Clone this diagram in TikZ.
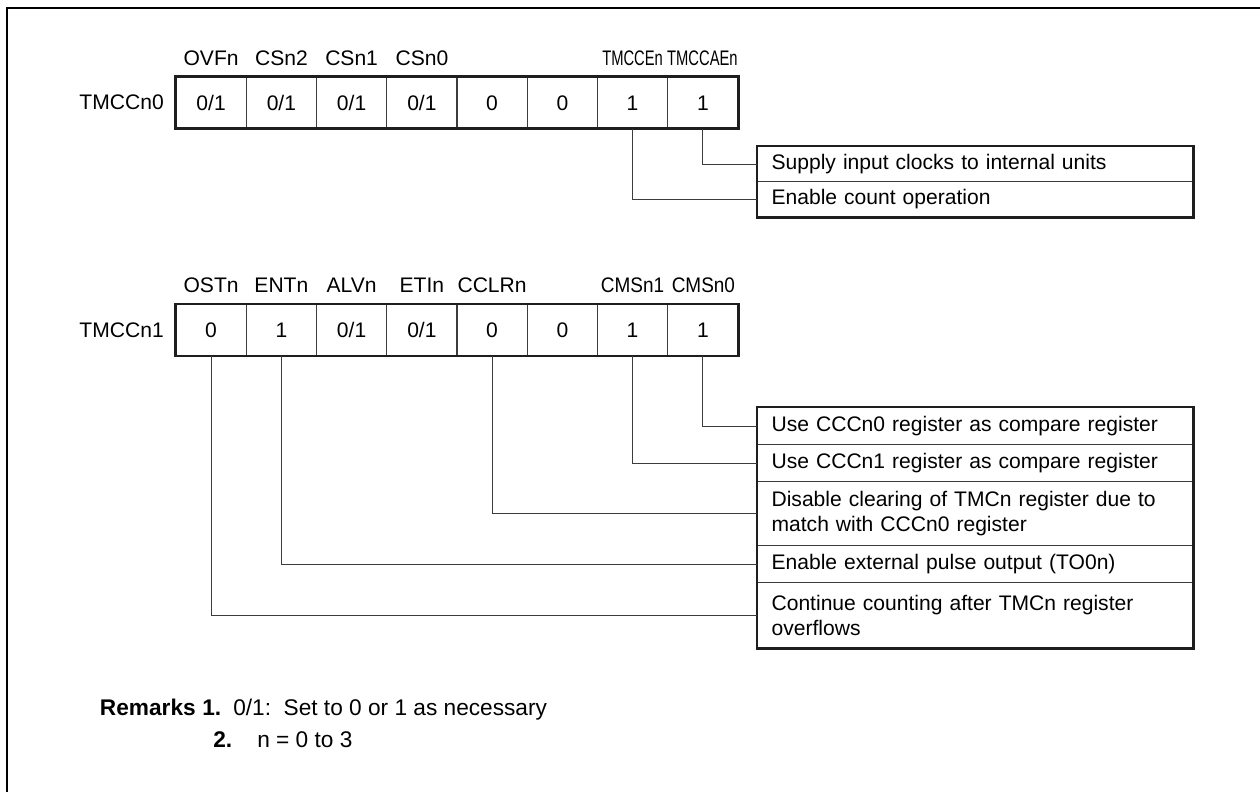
\documentclass[tikz,border=0pt]{standalone}
\usepackage{fontspec}
\setmainfont{Liberation Sans}
\usepackage{graphicx}
\usepackage{xcolor}
\usepackage{tikz}
\definecolor{figline}{RGB}{30,30,30}
\definecolor{figthin}{RGB}{60,60,60}
\newcommand\figfont{\fontsize{15.8}{18.75}\selectfont}
\newcommand\remfont{\fontsize{17}{20}\selectfont}
\tikzset{
  cell/.style ={draw=figthin, line width=0.8pt, minimum width=52.69pt, minimum height=38.25pt, inner sep=0pt, font=\figfont, text height=11.3pt, text depth=0pt},
  scb/.style  ={draw=figline, line width=2pt},
  sc/.style   ={draw=figthin, line width=0.75pt},
  frm/.style  ={draw=black, line width=2pt},
  lab/.style  ={font=\figfont, inner sep=0pt, anchor=base},
  regname/.style ={font=\figfont, inner sep=0pt, anchor=east},
  note/.style ={draw=figthin, line width=0.9pt, anchor=north west, text width=305.25pt, inner xsep=10.5pt, inner ysep=0pt, align=left, font=\figfont},
  rem/.style  ={font=\remfont, inner sep=0pt, anchor=base west},
}
\begin{document}
\begin{tikzpicture}[x=0.75pt,y=-0.75pt]
  \useasboundingbox (0,0) rectangle (1260,792);
  \draw[frm] (1260,8) -- (7,8) -- (7,792);
  \node[lab] (lovf) at (211.1,65) {OVFn};
  \node[lab] (lcs2) at (281.4,65) {CSn2};
  \node[lab] (lcs1) at (351.6,65) {CSn1};
  \node[lab] (lcs0) at (421.9,65) {CSn0};
  \node[lab] (ltmcce) at (632.6,65) {\scalebox{0.70}[1]{TMCCEn}};
  \node[lab] (ltmccae) at (702.4,65) {\scalebox{0.70}[1]{TMCCAEn}};
  \node[regname] (rega) at (164,102.5) {TMCCn0};
  \node[cell] (ra1) at (211.1,102.5) {0/1};
  \node[cell] (ra2) at (281.4,102.5) {0/1};
  \node[cell] (ra3) at (351.6,102.5) {0/1};
  \node[cell] (ra4) at (421.9,102.5) {0/1};
  \node[cell] (ra5) at (492.1,102.5) {0};
  \node[cell] (ra6) at (562.4,102.5) {0};
  \node[cell] (ra7) at (632.6,102.5) {1};
  \node[cell] (ra8) at (702.9,102.5) {1};
  \draw[scb] (ra1.north west) rectangle (ra8.south east);
  \node[note, minimum height=26.25pt] (na1) at (757,146) {Supply input clocks to internal units};
  \node[note, minimum height=26.25pt] (na2) at (757,181) {Enable count operation};
  \draw[scb] (na1.north west) rectangle (na2.south east);
  \draw[sc] (ra8.south) |- (na1.west);
  \draw[sc] (ra7.south) |- (na2.west);
  \node[lab] (lost) at (211.1,292) {OSTn};
  \node[lab] (lent) at (281.4,292) {ENTn};
  \node[lab] (lalv) at (351.6,292) {ALVn};
  \node[lab] (leti) at (421.9,292) {ETIn};
  \node[lab] (lcclr) at (492.1,292) {CCLRn};
  \node[lab] (lcms1) at (632.6,292) {\scalebox{0.9}[1]{CMSn1}};
  \node[lab] (lcms0) at (703.4,292) {\scalebox{0.9}[1]{CMSn0}};
  \node[regname] (regb) at (164,330) {TMCCn1};
  \node[cell] (rb1) at (211.1,330) {0};
  \node[cell] (rb2) at (281.4,330) {1};
  \node[cell] (rb3) at (351.6,330) {0/1};
  \node[cell] (rb4) at (421.9,330) {0/1};
  \node[cell] (rb5) at (492.1,330) {0};
  \node[cell] (rb6) at (562.4,330) {0};
  \node[cell] (rb7) at (632.6,330) {1};
  \node[cell] (rb8) at (702.9,330) {1};
  \draw[scb] (rb1.north west) rectangle (rb8.south east);
  \node[note, minimum height=27.75pt] (nb1) at (757,407) {Use CCCn0 register as compare register};
  \node[note, minimum height=27.75pt] (nb2) at (757,444) {Use CCCn1 register as compare register};
  \node[note, minimum height=48pt] (nb3) at (757,481) {Disable clearing of TMCn register due to match with CCCn0 register};
  \node[note, minimum height=27.75pt] (nb4) at (757,545) {Enable external pulse output (TO0n)};
  \node[note, minimum height=48.75pt] (nb5) at (757,582) {Continue counting after TMCn register overflows};
  \draw[scb] (nb1.north west) rectangle (nb5.south east);
  \draw[sc] (rb8.south) |- (nb1.west);
  \draw[sc] (rb7.south) |- (nb2.west);
  \draw[sc] (rb5.south) |- (nb3.west);
  \draw[sc] (rb2.south) |- (nb4.west);
  \draw[sc] (rb1.south) |- (nb5.west);
  \node[rem, anchor=base east] (remk) at (196,715) {\bfseries Remarks};
  \node[rem] (rem1) at (202,715) {\bfseries 1.};
  \node[rem] (remt1) at (233,715) {0/1:\ \ Set to 0 or 1 as necessary};
  \node[rem] (rem2) at (213,747) {\bfseries 2.};
  \node[rem] (remt2) at (257,747) {n = 0 to 3};
\end{tikzpicture}
\end{document}
